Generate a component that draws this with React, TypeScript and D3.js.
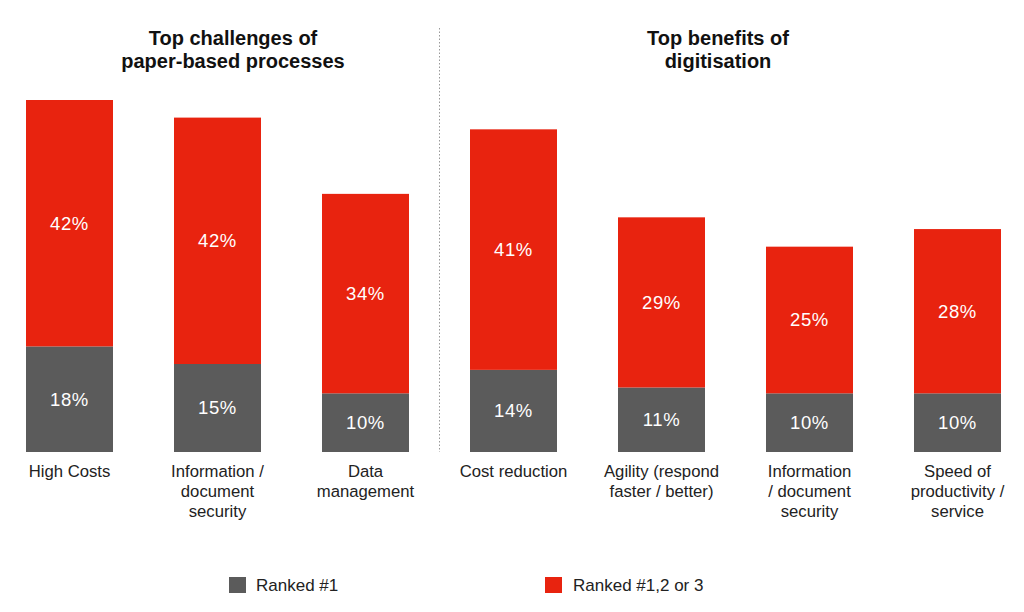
import React from "react";
import * as d3 from "d3";

const categories = [
  "High Costs",
  "Information / document security",
  "Data management",
  "Cost reduction",
  "Agility (respond faster / better)",
  "Information / document security ",
  "Speed of productivity / service",
];
const categoryLines: string[][] = [
  ["High Costs"],
  ["Information /", "document", "security"],
  ["Data", "management"],
  ["Cost reduction"],
  ["Agility (respond", "faster / better)"],
  ["Information", "/ document", "security"],
  ["Speed of", "productivity /", "service"],
];
const ranked1 = [18, 15, 10, 14, 11, 10, 10];
const ranked123 = [42, 42, 34, 41, 29, 25, 28];
const groupTitles = [
  ["Top challenges of", "paper-based processes"],
  ["Top benefits of", "digitisation"],
];
const legendLabels = ["Ranked #1", "Ranked #1,2 or 3"];

const RED = "#e8230f";
const GRAY = "#5b5b5b";
const FONT = "'Liberation Sans', Arial, Helvetica, sans-serif";

export default function App() {
  const W = 1024;
  const H = 612;
  const x = d3
    .scaleBand<string>()
    .domain(categories)
    .range([26, 1001])
    .paddingInner(61 / 148)
    .paddingOuter(0);
  const x0 = (c: string) => x(c) as number;
  const bw = x.bandwidth();
  const y = d3.scaleLinear().domain([0, 60]).range([452, 100]);

  const divX = (x0(categories[2]) + bw + x0(categories[3])) / 2;

  return (
    <svg
      width={W}
      height={H}
      style={{ position: "absolute", left: 0, top: 0, background: "#fff" }}
      fontFamily={FONT}
    >
      <rect width={W} height={H} fill="#fff" />
      {groupTitles.map((lines, gi) => {
        const cx = gi === 0 ? 233 : 718;
        return (
          <text
            key={gi}
            x={cx}
            textAnchor="middle"
            fontWeight="bold"
            fontSize={20}
            fill="#111"
          >
            {lines.map((l, li) => (
              <tspan key={li} x={cx} y={45 + li * 23}>
                {l}
              </tspan>
            ))}
          </text>
        );
      })}
      <line
        x1={divX}
        x2={divX}
        y1={28}
        y2={452}
        stroke="#999"
        strokeWidth={1}
        strokeDasharray="1.5 2"
      />
      {categories.map((c, i) => {
        const bx = x0(c);
        const g = ranked1[i];
        const r = ranked123[i];
        const cx = bx + bw / 2;
        return (
          <g key={i}>
            <rect x={bx} y={y(g)} width={bw} height={y(0) - y(g)} fill={GRAY} />
            <rect x={bx} y={y(g + r)} width={bw} height={y(g) - y(g + r)} fill={RED} />
            <text
              x={cx}
              y={(y(0) + y(g)) / 2}
              dy="0.35em"
              textAnchor="middle"
              fill="#fff"
              fontSize={18.5}
              letterSpacing={0.6}
            >
              {g}%
            </text>
            <text
              x={cx}
              y={(y(g) + y(g + r)) / 2}
              dy="0.35em"
              textAnchor="middle"
              fill="#fff"
              fontSize={18.5}
              letterSpacing={0.6}
            >
              {r}%
            </text>
            <text textAnchor="middle" fontSize={16.7} fill="#222">
              {categoryLines[i].map((l, li) => (
                <tspan key={li} x={cx} y={477 + li * 20}>
                  {l}
                </tspan>
              ))}
            </text>
          </g>
        );
      })}
      <rect x={229} y={577} width={17} height={16} fill={GRAY} />
      <text x={256} y={591} fontSize={17} fill="#222">
        {legendLabels[0]}
      </text>
      <rect x={545} y={577} width={17} height={16} fill={RED} />
      <text x={573} y={591} fontSize={17} fill="#222">
        {legendLabels[1]}
      </text>
    </svg>
  );
}
